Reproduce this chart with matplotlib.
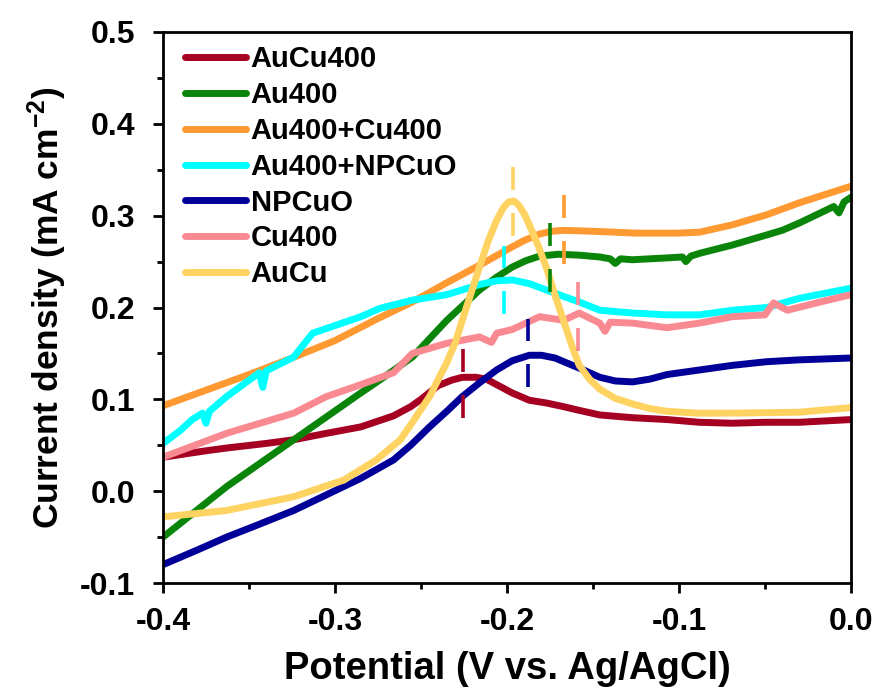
import matplotlib
matplotlib.use("Agg")
import matplotlib.pyplot as plt
from matplotlib.ticker import MultipleLocator

plt.rcParams["font.family"] = ["Liberation Sans", "DejaVu Sans"]
plt.rcParams["font.weight"] = "bold"
plt.rcParams["mathtext.fontset"] = "custom"
plt.rcParams["mathtext.bf"] = "Liberation Sans:bold"
plt.rcParams["mathtext.rm"] = "Liberation Sans:bold"
plt.rcParams["mathtext.default"] = "bf"

# LSV curves, potential in V vs. Ag/AgCl, current density in mA cm^-2
aucu400_v = [-0.400, -0.375, -0.363, -0.340, -0.324, -0.305, -0.285, -0.266, -0.256,
             -0.250, -0.240, -0.232, -0.226, -0.218, -0.212, -0.205, -0.197, -0.187,
             -0.177, -0.167, -0.158, -0.146, -0.127, -0.107, -0.088, -0.069, -0.050,
             -0.030, 0.000]
aucu400_j = [0.037, 0.044, 0.047, 0.052, 0.056, 0.063, 0.070, 0.082, 0.092,
             0.100, 0.115, 0.121, 0.124, 0.124, 0.122, 0.115, 0.107, 0.099,
             0.096, 0.092, 0.088, 0.083, 0.080, 0.078, 0.075, 0.074, 0.075,
             0.075, 0.078]

au400_v = [-0.400, -0.363, -0.324, -0.285, -0.274, -0.255, -0.235, -0.216, -0.206,
           -0.197, -0.189, -0.181, -0.170, -0.158, -0.146, -0.140, -0.137, -0.134,
           -0.127, -0.107, -0.098, -0.096, -0.093, -0.088, -0.069, -0.049, -0.040,
           -0.030, -0.010, -0.007, -0.004, 0.000]
au400_j = [-0.050, 0.005, 0.056, 0.107, 0.121, 0.146, 0.186, 0.219, 0.233,
           0.244, 0.251, 0.256, 0.258, 0.257, 0.255, 0.253, 0.248, 0.253,
           0.252, 0.254, 0.255, 0.250, 0.256, 0.259, 0.268, 0.279, 0.284,
           0.292, 0.310, 0.303, 0.315, 0.320]

au400_cu400_v = [-0.400, -0.375, -0.350, -0.325, -0.300, -0.275, -0.255, -0.235, -0.216,
                 -0.197, -0.190, -0.181, -0.174, -0.167, -0.150, -0.125, -0.100, -0.088,
                 -0.069, -0.049, -0.030, -0.010, 0.000]
au400_cu400_j = [0.093, 0.110, 0.127, 0.145, 0.164, 0.188, 0.206, 0.227, 0.246,
                 0.266, 0.273, 0.280, 0.283, 0.284, 0.283, 0.281, 0.281, 0.282,
                 0.290, 0.301, 0.314, 0.326, 0.332]

au400_npcuo_v = [-0.400, -0.390, -0.383, -0.377, -0.375, -0.373, -0.363, -0.344, -0.342,
                 -0.340, -0.324, -0.313, -0.285, -0.274, -0.255, -0.235, -0.216, -0.206,
                 -0.197, -0.187, -0.177, -0.167, -0.158, -0.146, -0.127, -0.107, -0.088,
                 -0.069, -0.049, -0.030, 0.000]
au400_npcuo_j = [0.052, 0.066, 0.078, 0.085, 0.074, 0.087, 0.103, 0.129, 0.113,
                 0.131, 0.146, 0.172, 0.190, 0.199, 0.208, 0.214, 0.225, 0.229,
                 0.230, 0.226, 0.219, 0.212, 0.206, 0.197, 0.194, 0.192, 0.192,
                 0.197, 0.200, 0.210, 0.221]

npcuo_v = [-0.400, -0.380, -0.363, -0.344, -0.324, -0.305, -0.285, -0.266, -0.256,
           -0.245, -0.235, -0.226, -0.216, -0.206, -0.197, -0.187, -0.180, -0.172,
           -0.167, -0.158, -0.146, -0.137, -0.127, -0.117, -0.107, -0.088, -0.069,
           -0.049, -0.030, 0.000]
npcuo_j = [-0.080, -0.064, -0.050, -0.036, -0.021, -0.004, 0.014, 0.034, 0.050,
           0.070, 0.087, 0.103, 0.118, 0.132, 0.142, 0.148, 0.148, 0.145,
           0.141, 0.134, 0.124, 0.120, 0.119, 0.122, 0.127, 0.132, 0.137,
           0.141, 0.143, 0.145]

cu400_v = [-0.400, -0.363, -0.324, -0.305, -0.285, -0.266, -0.255, -0.235, -0.216,
           -0.209, -0.206, -0.197, -0.181, -0.167, -0.158, -0.146, -0.143, -0.140,
           -0.127, -0.107, -0.088, -0.069, -0.050, -0.045, -0.037, -0.020, 0.000]
cu400_j = [0.037, 0.063, 0.085, 0.103, 0.116, 0.129, 0.150, 0.161, 0.168,
           0.162, 0.172, 0.176, 0.190, 0.186, 0.194, 0.183, 0.174, 0.184,
           0.183, 0.178, 0.183, 0.190, 0.192, 0.205, 0.197, 0.205, 0.214]

aucu_v = [-0.400, -0.363, -0.324, -0.295, -0.276, -0.262, -0.255, -0.245, -0.235,
          -0.230, -0.226, -0.221, -0.216, -0.211, -0.206, -0.202, -0.199, -0.196,
          -0.193, -0.190, -0.187, -0.182, -0.177, -0.172, -0.167, -0.162, -0.158,
          -0.152, -0.146, -0.137, -0.127, -0.117, -0.107, -0.090, -0.069, -0.030,
          0.000]
aucu_j = [-0.028, -0.021, -0.006, 0.012, 0.034, 0.056, 0.075, 0.103, 0.140,
          0.162, 0.186, 0.215, 0.244, 0.272, 0.295, 0.309, 0.315, 0.316,
          0.311, 0.302, 0.290, 0.268, 0.243, 0.213, 0.185, 0.157, 0.137,
          0.122, 0.111, 0.101, 0.095, 0.090, 0.087, 0.085, 0.085, 0.086,
          0.091]

# peak positions marked with short dashed ticks
peak_v = [-0.2255, -0.175, -0.167, -0.2015, -0.188, -0.1585, -0.1965]
peak_j = [0.117, 0.254, 0.2845, 0.230, 0.1505, 0.190, 0.315]

labels = ["AuCu400", "Au400", "Au400+Cu400", "Au400+NPCuO", "NPCuO", "Cu400", "AuCu"]
colors = ["#A50021", "#0A850A", "#FF9A33", "#00FFFF", "#000099", "#F98A92", "#FFD362"]

series = [
    (aucu400_v, aucu400_j),
    (au400_v, au400_j),
    (au400_cu400_v, au400_cu400_j),
    (au400_npcuo_v, au400_npcuo_j),
    (npcuo_v, npcuo_j),
    (cu400_v, cu400_j),
    (aucu_v, aucu_j),
]

fig = plt.figure(figsize=(8.82, 6.89), dpi=100)
ax = fig.add_axes([0.1848, 0.1538, 0.78, 0.7998])

for (v, j), lab, col in zip(series, labels, colors):
    ax.plot(v, j, color=col, lw=5, label=lab, solid_capstyle="round",
            solid_joinstyle="round")

half, gap = 0.0375, 0.0125
for pv, pj, col in zip(peak_v, peak_j, colors):
    ax.vlines(pv, pj - half, pj - gap, color=col, lw=2.6)
    ax.vlines(pv, pj + gap, pj + half, color=col, lw=2.6)

ax.set_xlim(-0.4, 0.0)
ax.set_ylim(-0.1, 0.5)
ax.xaxis.set_major_locator(MultipleLocator(0.1))
ax.xaxis.set_minor_locator(MultipleLocator(0.05))
ax.yaxis.set_major_locator(MultipleLocator(0.1))
ax.yaxis.set_minor_locator(MultipleLocator(0.05))
ax.xaxis.set_major_formatter(plt.FuncFormatter(lambda x, _: f"{x:.1f}"))
ax.yaxis.set_major_formatter(plt.FuncFormatter(lambda y, _: f"{y:.1f}"))

for s in ax.spines.values():
    s.set_linewidth(2.0)
ax.tick_params(which="major", direction="out", length=7, width=2.0, labelsize=23)
ax.tick_params(which="minor", direction="out", length=4, width=2.0)
ax.tick_params(axis="x", which="major", pad=10)
ax.tick_params(axis="y", which="major", pad=13)
for t in ax.get_xticklabels() + ax.get_yticklabels():
    t.set_fontweight("bold")

ax.set_xlabel("Potential (V vs. Ag/AgCl)", fontsize=27.5, fontweight="bold", labelpad=10)
ax.set_ylabel("Current density (mA cm$^{-2}$)", fontsize=25.5, fontweight="bold", labelpad=8)

leg = ax.legend(loc="upper left", bbox_to_anchor=(0.013, 1.0), frameon=False,
                fontsize=21, handlelength=2.1, handletextpad=0.15,
                labelspacing=0.27, borderaxespad=0.25, borderpad=0.2)
for t in leg.get_texts():
    t.set_fontweight("bold")

fig.savefig("out.png", dpi=100)
